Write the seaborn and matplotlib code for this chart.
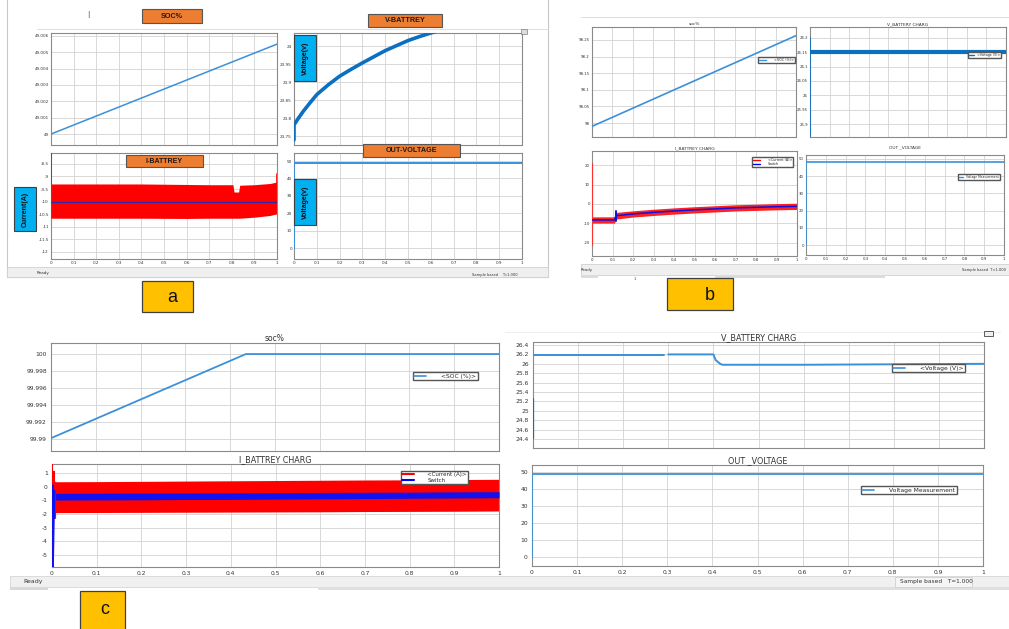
import numpy as np
import pandas as pd
import matplotlib
matplotlib.use("Agg")
import matplotlib.pyplot as plt
import seaborn as sns
from matplotlib.patches import Rectangle
from matplotlib.lines import Line2D

# ---------------- data ----------------
x_ticks = [0, 0.1, 0.2, 0.3, 0.4, 0.5, 0.6, 0.7, 0.8, 0.9, 1]
x_tick_labels = ["0", "0.1", "0.2", "0.3", "0.4", "0.5", "0.6", "0.7", "0.8", "0.9", "1"]

# panel a
a_soc_t = [0, 1]
a_soc_v = [49.0, 49.0055]
a_soc_ticks = [49.0, 49.001, 49.002, 49.003, 49.004, 49.005, 49.006]
a_soc_labels = ["49", "49.001", "49.002", "49.003", "49.004", "49.005", "49.006"]

a_vbat_t = [0, 0, 0.02, 0.04, 0.07, 0.1, 0.15, 0.2, 0.25, 0.3, 0.35, 0.4, 0.45, 0.5, 0.55, 0.6, 0.65, 0.7]
a_vbat_v = [23.74, 23.782, 23.801, 23.819, 23.843, 23.866, 23.893, 23.917, 23.936, 23.954,
            23.971, 23.988, 24.002, 24.016, 24.027, 24.037, 24.046, 24.055]
a_vbat_ticks = [23.75, 23.8, 23.85, 23.9, 23.95, 24.0]
a_vbat_labels = ["23.75", "23.8", "23.85", "23.9", "23.95", "24"]

a_ibat_t = [0, 0.02, 0.2, 0.4, 0.6, 0.7, 0.8, 0.805, 0.81, 0.83, 0.835, 0.9, 0.97, 1.0]
a_ibat_hi = [-9.3, -9.3, -9.3, -9.3, -9.32, -9.33, -9.33, -9.33, -9.62, -9.62, -9.35, -9.33, -9.28, -9.22]
a_ibat_lo = [-10.66, -10.66, -10.66, -10.66, -10.67, -10.66, -10.66, -10.66, -10.66, -10.66, -10.66, -10.62, -10.55, -10.48]
a_ibat_spike_t = [0, 0]
a_ibat_spike_v = [-8.07, -10.66]
a_ibat_end_t = [1.0, 1.0]
a_ibat_end_v = [-8.9, -9.3]
a_switch_t = [0, 1]
a_switch_v = [-10.0, -10.0]
a_ibat_ticks = [-12, -11.5, -11, -10.5, -10, -9.5, -9, -8.5]
a_ibat_labels = ["-12", "-11.5", "-11", "-10.5", "-10", "-9.5", "-9", "-8.5"]

a_out_t = [0, 0, 1]
a_out_v = [0, 48.8, 48.8]
out_ticks = [0, 10, 20, 30, 40, 50]
out_labels = ["0", "10", "20", "30", "40", "50"]

# panel b
b_soc_t = [0, 1]
b_soc_v = [97.99, 98.263]
b_soc_ticks = [98.0, 98.05, 98.1, 98.15, 98.2, 98.25]
b_soc_labels = ["98", "98.05", "98.1", "98.15", "98.2", "98.25"]

b_vbat_spike_t = [0, 0]
b_vbat_spike_v = [25.86, 26.2]
b_vbat_t = [0.002, 1.0]
b_vbat_v = [26.15, 26.15]
b_vbat_ticks = [25.9, 25.95, 26.0, 26.05, 26.1, 26.15, 26.2]
b_vbat_labels = ["25.9", "25.95", "26", "26.05", "26.1", "26.15", "26.2"]

b_ibat_t = [0, 0.005, 0.11, 0.115, 0.12, 0.2, 0.3, 0.4, 0.5, 0.6, 0.7, 0.8, 0.9, 1.0]
b_ibat_mid = [-8.2, -8.2, -8.2, -6.5, -6.0, -5.1, -4.3, -3.6, -3.0, -2.5, -2.0, -1.7, -1.4, -1.2]
b_ibat_hi = [-6.6, -6.6, -6.6, -4.7, -4.3, -3.5, -2.7, -2.0, -1.4, -0.9, -0.4, -0.1, 0.2, 0.4]
b_ibat_lo = [-9.8, -9.8, -9.8, -8.2, -7.7, -6.7, -5.9, -5.2, -4.6, -4.1, -3.6, -3.3, -3.0, -2.8]
b_ibat_spike_t = [0, 0]
b_ibat_spike_v = [21.0, -21.0]
b_switch_spike_t = [0.115, 0.115]
b_switch_spike_v = [-3.8, -8.6]
b_ibat_ticks = [-20, -10, 0, 10, 20]
b_ibat_labels = ["-20", "-10", "0", "10", "20"]

b_out_t = [0, 0, 1]
b_out_v = [0, 48.3, 48.3]

# panel c
c_soc_t = [0, 0.435, 1]
c_soc_v = [99.9901, 100.0, 100.0]
c_soc_ticks = [99.99, 99.992, 99.994, 99.996, 99.998, 100.0]
c_soc_labels = ["99.99", "99.992", "99.994", "99.996", "99.998", "100"]

c_vbat_spike_t = [0, 0]
c_vbat_spike_v = [24.42, 25.25]
c_vbat_t1 = [0.002, 0.29]
c_vbat_v1 = [26.18, 26.18]
c_vbat_t2 = [0.3, 0.4, 0.405, 0.41, 0.415, 0.42, 0.6, 1.0]
c_vbat_v2 = [26.2, 26.2, 26.08, 26.04, 26.0, 25.98, 25.98, 26.0]
c_vbat_ticks = [24.4, 24.6, 24.8, 25.0, 25.2, 25.4, 25.6, 25.8, 26.0, 26.2, 26.4]
c_vbat_labels = ["24.4", "24.6", "24.8", "25", "25.2", "25.4", "25.6", "25.8", "26", "26.2", "26.4"]

c_ibat_t = [0.006, 0.1, 0.2, 0.3, 0.4, 0.5, 0.6, 0.7, 0.8, 0.9, 1.0]
c_ibat_hi = [0.36, 0.37, 0.39, 0.41, 0.43, 0.45, 0.47, 0.49, 0.5, 0.52, 0.54]
c_ibat_lo = [-1.9, -1.89, -1.88, -1.87, -1.86, -1.85, -1.84, -1.82, -1.81, -1.8, -1.78]
c_sw_hi = [-0.49, -0.48, -0.47, -0.46, -0.45, -0.43, -0.42, -0.41, -0.4, -0.38, -0.37]
c_sw_lo = [-0.98, -0.97, -0.96, -0.94, -0.93, -0.91, -0.89, -0.87, -0.85, -0.83, -0.81]
c_ibat_spike_t = [0, 0, 0.004, 0.004, 0.007, 0.007]
c_ibat_spike_v = [1.66, -1.9, 1.1, -2.3, -2.3, 0.3]
c_sw_spike_t = [0.002, 0.002, 0.005, 0.005]
c_sw_spike_v = [0.1, -5.85, -0.3, -2.2]
c_ibat_ticks = [-5, -4, -3, -2, -1, 0, 1]
c_ibat_labels = ["-5", "-4", "-3", "-2", "-1", "0", "1"]

c_out_t = [0, 0, 1]
c_out_v = [0, 48.8, 48.8]

# ---------------- figure ----------------
W, H = 1009, 629
sns.set_theme(style="whitegrid")
plt.rcParams['font.family'] = ['DejaVu Sans']

fig = plt.figure(figsize=(W / 100, H / 100), dpi=100)
fig.patch.set_facecolor('white')

BLUE = '#0B6FC2'
SOCBLUE = '#3C90D8'


def add_ax(x0, y0, x1, y1):
    return fig.add_axes([x0 / W, 1 - y1 / H, (x1 - x0) / W, (y1 - y0) / H])


def style(ax, ylim, yticks, ylabels, fs, show_x, pad=1.5):
    ax.set_facecolor('white')
    ax.set_xlim(0, 1)
    ax.set_ylim(*ylim)
    ax.set_xticks(x_ticks)
    ax.set_xticklabels(x_tick_labels if show_x else [])
    ax.set_yticks(yticks)
    ax.set_yticklabels(ylabels)
    ax.grid(True, color='#D2D2D2', lw=0.6)
    for s in ax.spines.values():
        s.set_color('#8A8A8A')
        s.set_linewidth(0.8)
    ax.tick_params(labelsize=fs, length=1.5, width=0.5, direction='in',
                   colors='#8A8A8A', labelcolor='#333333', pad=pad)
    ax.set_xlabel('')
    ax.set_ylabel('')


def line(ax, t, v, color, lw, z=3):
    sns.lineplot(x=t, y=v, ax=ax, color=color, linewidth=lw, estimator=None,
                 sort=False, legend=False, errorbar=None, zorder=z)


def fig_rect(x0, y0, x1, y1, fc, ec, lw=0.8, z=1):
    fig.add_artist(Rectangle((x0 / W, 1 - y1 / H), (x1 - x0) / W, (y1 - y0) / H,
                             transform=fig.transFigure, facecolor=fc, edgecolor=ec,
                             linewidth=lw, zorder=z))


def fig_text(x, y, s, fs, ha='center', va='center', z=6, **kw):
    fig.text(x / W, 1 - y / H, s, fontsize=fs, ha=ha, va=va, zorder=z, **kw)


def legend(ax, handles, labels, x0, y0, fs, tpad=2.5, hlen=2.0):
    ax.legend(handles, labels, loc='upper left', bbox_to_anchor=(x0 / W, 1 - y0 / H),
              bbox_transform=fig.transFigure, fontsize=fs, frameon=True, fancybox=False,
              edgecolor='#555555', framealpha=1, borderpad=0.25, labelspacing=0.1,
              handlelength=hlen, handletextpad=tpad, borderaxespad=0)


# background frames / status bars
fig_rect(7, -2, 548, 277, 'none', '#C8C8C8', lw=0.8, z=0.1)
fig_rect(7, 267, 548, 277, '#EFEFEF', '#D0D0D0', lw=0.6, z=0.2)
fig.add_artist(Line2D([37 / W, 548 / W], [1 - 29 / H, 1 - 29 / H], transform=fig.transFigure,
                      color='#D8D8D8', lw=0.6, zorder=0.2))
fig_text(37, 273, "Ready", 3, ha='left', color='#333333')
fig_text(472, 275, "Sample based", 2.6, ha='left', color='#333333')
fig_text(502, 275, "T=1.000", 2.6, ha='left', color='#333333')

fig.add_artist(Line2D([581 / W, 1], [1 - 17 / H, 1 - 17 / H], transform=fig.transFigure,
                      color='#D8D8D8', lw=0.6, zorder=0.2))
fig_rect(581, 264, 1012, 275, '#EFEFEF', '#D0D0D0', lw=0.6, z=0.2)
fig_rect(581, 275, 598, 278, '#DCDCDC', 'none', lw=0, z=0.2)
fig_rect(715, 275, 885, 278, '#DCDCDC', 'none', lw=0, z=0.2)
fig_text(581, 270, "Ready", 2.8, ha='left', color='#333333')
fig_text(1006, 270, "Sample based  T=1.000", 2.6, ha='right', color='#333333')
fig_text(635, 279, "1", 3, color='#555555')

fig.add_artist(Line2D([505 / W, 1000 / W], [1 - 332 / H, 1 - 332 / H], transform=fig.transFigure,
                      color='#EAEAEA', lw=0.6, zorder=0.2))
fig_rect(10, 576, 1012, 587, '#F0F0F0', '#D6D6D6', lw=0.6, z=0.2)
fig_rect(10, 587, 48, 590, '#D8D8D8', 'none', lw=0, z=0.2)
fig_rect(318, 587, 1012, 590, '#E0E0E0', 'none', lw=0, z=0.2)
fig_rect(895, 577, 972, 587, '#F6F6F6', '#D0D0D0', lw=0.6, z=0.3)
fig_text(23, 582, "Ready", 4.5, ha='left', color='#333333')
fig_text(900, 582, "Sample based   T=1.000", 4.2, ha='left', color='#333333')
fig_rect(984, 331, 993, 336, '#F0F0F0', '#444444', lw=0.6, z=0.3)

# ---------------- panel a ----------------
ax = add_ax(51, 33, 277, 145)
style(ax, (48.99933, 49.00618), a_soc_ticks, a_soc_labels, 3, False)
line(ax, a_soc_t, a_soc_v, SOCBLUE, 1.1)

ax = add_ax(294, 33, 522, 145)
style(ax, (23.726, 24.037), a_vbat_ticks, a_vbat_labels, 3, False)
line(ax, a_vbat_t, a_vbat_v, BLUE, 2.6)

ax = add_ax(51, 153, 277, 259)
style(ax, (-12.28, -8.07), a_ibat_ticks, a_ibat_labels, 3, True)
ax.fill_between(a_ibat_t, a_ibat_lo, a_ibat_hi, color='#FF0000', lw=0, zorder=2)
line(ax, a_ibat_spike_t, a_ibat_spike_v, '#FF0000', 1.2)
line(ax, a_ibat_end_t, a_ibat_end_v, '#FF0000', 1.2)
line(ax, a_switch_t, a_switch_v, '#2A2AB0', 0.9, z=4)

ax = add_ax(294, 153, 522, 259)
style(ax, (-6.3, 54.6), out_ticks, out_labels, 3, True)
line(ax, a_out_t, a_out_v, SOCBLUE, 1.4)

# orange titles & blue labels
for (x0, y0, x1, y1, s, fs) in [(142, 9, 202, 23, "SOC%", 5.2),
                                (368, 14, 442, 27, "V-BATTREY", 5.2),
                                (126, 155, 203, 167, "I-BATTREY", 5.0),
                                (363, 144, 460, 157, "OUT-VOLTAGE", 5.2)]:
    fig_rect(x0, y0, x1, y1, '#ED7D31', '#555555', lw=0.8, z=5)
    fig_text((x0 + x1) / 2, (y0 + y1) / 2 + 0.5, s, fs, weight='bold', color='#1A1A1A',
             family='Liberation Sans')
for (x0, y0, x1, y1, s) in [(294, 35, 316, 81, "Voltage(v)"),
                            (294, 179, 316, 225, "Voltage(v)"),
                            (14, 187, 36, 231, "Current(A)")]:
    fig_rect(x0, y0, x1, y1, '#00B0F0', '#404040', lw=0.8, z=5)
    fig_text((x0 + x1) / 2, (y0 + y1) / 2, s, 5.0, weight='bold', rotation=90,
             color='#111111', family='Liberation Sans')
fig_text(88, 15, "|", 5, color='#444444')
fig_rect(521, 29, 527, 34, '#DDDDDD', '#666666', lw=0.4, z=5)

# ---------------- panel b ----------------
ax = add_ax(592, 27, 796, 137)
style(ax, (97.958, 98.289), b_soc_ticks, b_soc_labels, 2.8, False)
line(ax, b_soc_t, b_soc_v, SOCBLUE, 1.2)
ax.set_title("soc%", fontsize=3.2, pad=1.5, color='#333333')
legend(ax, [Line2D([], [], color=SOCBLUE, lw=1)], ["<SOC (%)>"], 758, 57, 2.4)

ax = add_ax(810, 27, 1006, 137)
style(ax, (25.855, 26.238), b_vbat_ticks, b_vbat_labels, 2.8, False)
line(ax, b_vbat_spike_t, b_vbat_spike_v, BLUE, 1.2)
line(ax, b_vbat_t, b_vbat_v, BLUE, 3.0)
ax.set_title("V_BATTERY CHARG", fontsize=3.2, pad=1.5, color='#333333')
legend(ax, [Line2D([], [], color=BLUE, lw=1)], ["<Voltage (V)>"], 968, 52, 2.3, tpad=1.2, hlen=1.5)

ax = add_ax(592, 151, 797, 256)
style(ax, (-26.7, 27.2), b_ibat_ticks, b_ibat_labels, 2.8, True)
ax.fill_between(b_ibat_t, b_ibat_lo, b_ibat_hi, color='#FF2020', lw=0, zorder=2)
line(ax, b_ibat_spike_t, b_ibat_spike_v, '#FF3030', 0.8)
line(ax, b_ibat_t, b_ibat_mid, '#1010E0', 1.1, z=4)
line(ax, b_switch_spike_t, b_switch_spike_v, '#1010E0', 1.4, z=4)
ax.set_title("I_BATTREY CHARG", fontsize=3.2, pad=1.5, color='#333333')
legend(ax, [Line2D([], [], color='#FF0000', lw=1), Line2D([], [], color='#0000FF', lw=1)],
       ["<Current (A)>", "Switch"], 752, 157, 2.4)

ax = add_ax(806, 155, 1004, 255)
style(ax, (-5.8, 52.3), out_ticks, out_labels, 2.8, True)
line(ax, b_out_t, b_out_v, SOCBLUE, 1.2)
ax.set_title("OUT _VOLTAGE", fontsize=3.2, pad=5, color='#333333')
legend(ax, [Line2D([], [], color=SOCBLUE, lw=1)], ["Voltage Measurement"], 958, 174, 2.2,
       tpad=1.0, hlen=1.5)

# ---------------- panel c ----------------
ax = add_ax(51, 343, 499, 451)
style(ax, (99.98859, 100.0013), c_soc_ticks, c_soc_labels, 4.3, False, pad=3)
line(ax, c_soc_t, c_soc_v, SOCBLUE, 1.3)
ax.set_title("soc%", fontsize=5.5, pad=1.5, color='#333333')
legend(ax, [Line2D([], [], color=SOCBLUE, lw=1.2)], ["<SOC (%)>"], 413, 372, 4.3)

ax = add_ax(533, 342, 984, 448)
style(ax, (24.21, 26.464), c_vbat_ticks, c_vbat_labels, 4.3, False, pad=3)
line(ax, c_vbat_spike_t, c_vbat_spike_v, BLUE, 1.6)
line(ax, c_vbat_t1, c_vbat_v1, SOCBLUE, 1.4)
line(ax, c_vbat_t2, c_vbat_v2, SOCBLUE, 1.4)
ax.set_title("V_BATTERY CHARG", fontsize=5.8, pad=1.5, color='#333333')
legend(ax, [Line2D([], [], color=SOCBLUE, lw=1.2)], ["<Voltage (V)>"], 892, 364, 4.3)

ax = add_ax(52, 464, 499, 567)
style(ax, (-5.88, 1.66), c_ibat_ticks, c_ibat_labels, 4.3, True, pad=3)
ax.fill_between(c_ibat_t, c_ibat_lo, c_ibat_hi, color='#FF0000', lw=0, zorder=2)
ax.fill_between(c_ibat_t, c_sw_lo, c_sw_hi, color='#1010F0', lw=0, zorder=3)
line(ax, c_ibat_spike_t, c_ibat_spike_v, '#FF0000', 1.4)
line(ax, c_sw_spike_t, c_sw_spike_v, '#1010F0', 1.4, z=4)
ax.set_title("I_BATTREY CHARG", fontsize=5.8, pad=1.5, color='#333333')
legend(ax, [Line2D([], [], color='#FF0000', lw=1.5), Line2D([], [], color='#0000FF', lw=1.5)],
       ["<Current (A)>", "Switch"], 401, 471, 4.0)

ax = add_ax(532, 465, 983, 566)
style(ax, (-5.3, 54.1), out_ticks, out_labels, 4.3, True, pad=3)
line(ax, c_out_t, c_out_v, SOCBLUE, 1.3)
ax.set_title("OUT _VOLTAGE", fontsize=5.8, pad=1.5, color='#333333')
legend(ax, [Line2D([], [], color=SOCBLUE, lw=1.2)], ["Voltage Measurement"], 861, 486, 4.3)

# yellow panel labels
for (x0, y0, x1, y1, s, tx, ty) in [(142, 281, 193, 312, "a", 172, 298),
                                    (667, 278, 733, 310, "b", 710, 296),
                                    (80, 591, 125, 632, "c", 105, 610)]:
    fig_rect(x0, y0, x1, y1, '#FFC000', '#404040', lw=0.9, z=5)
    fig_text(tx, ty, s, 13, color='#111111', family='Liberation Sans')

fig.savefig("out.png", dpi=100)
